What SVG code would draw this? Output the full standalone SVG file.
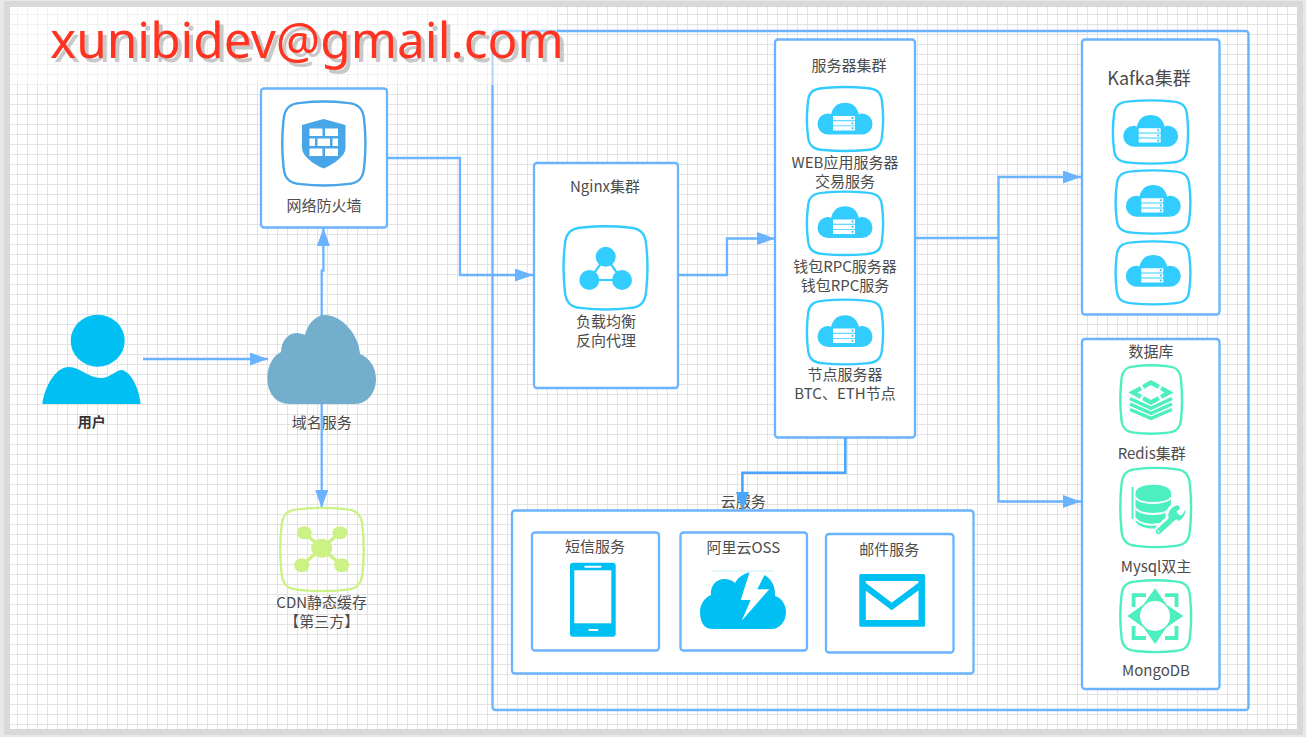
<svg xmlns="http://www.w3.org/2000/svg" xmlns:xlink="http://www.w3.org/1999/xlink" width="1306" height="737" viewBox="0 0 1306 737">
<style>
.box{fill:#fff;stroke:#69b3ff;stroke-width:2.3}
.conn{fill:none;stroke:#69b3ff;stroke-width:2.3}
.t{font-family:"Noto Sans CJK SC","Noto Sans",sans-serif;font-size:15px;fill:#4c4c4c;text-anchor:middle;dominant-baseline:central}
.sq{fill:#fff;stroke-width:2.4}
.cy{stroke:#33ccff}.gr{stroke:#4deebf}.sb{stroke:#48a6e8}.li{stroke:#ccf285}
.icb{fill:#00bff3}.icc{fill:#33ccff}.icg{fill:#4deebf}
.mail{font-family:"Noto Sans","Open Sans",sans-serif;font-size:49.500px;fill:#ff3322;text-shadow:4px 4px 0 #c8c8c8}
</style>
<defs>
<pattern id="grid" width="10" height="10" patternUnits="userSpaceOnUse">
<path d="M7.5 0V10M0 4.5H10" stroke="#e3e3e3" stroke-width="1" fill="none"/>
</pattern>
<path id="squircle" vector-effect="non-scaling-stroke" d="M22 1C40 -1 60 -1 78 1C92 2 98 8 99 22C101 40 101 60 99 78C98 92 92 98 78 99C60 101 40 101 22 99C8 98 2 92 1 78C-1 60 -1 40 1 22C2 8 8 2 22 1Z"/>
<g id="srv">
<path class="icc" d="M-17 16A10.500 10.500 0 0 1 -17 -5C-16 -5 -15 -5 -14 -4C-12 -12 -7 -15.700 0 -15.700C7 -15.700 12 -12 14 -4C15 -5 16 -5 17 -5A10.500 10.500 0 0 1 17 16Z"/>
<path fill="#fff" d="M-12 -2.500H10V1.700H-12ZM-12 2.700H10V6.900H-12ZM-12 7.700H10V11.900H-12Z"/>
<path fill="#33ccff" d="M6.500 -1.500h2v2h-2zM6.500 3.700h2v2h-2zM6.500 8.800h2v2h-2z"/>
</g>
<marker id="arr" markerUnits="userSpaceOnUse" markerWidth="18" markerHeight="13" refX="18" refY="6.500" orient="auto">
<path d="M0 0L18 6.500L0 13Z" fill="#69b3ff"/>
</marker>
</defs>

<rect width="1306" height="737" fill="#e8e8e8"/>
<rect x="4" y="1" width="1299" height="734" fill="#d9d9d9"/>
<rect x="10" y="7" width="1287" height="722" fill="#fff"/>
<rect x="10" y="7" width="1287" height="722" fill="url(#grid)"/>

<g id="frame"><rect class="box" x="492.500" y="31" width="756" height="679" rx="3" style="fill:none"/></g>

<g id="connectors">
<path class="conn" d="M143 359H268" marker-end="url(#arr)"/>
<path class="conn" d="M321.700 316V270.700H323.400V228" marker-end="url(#arr)"/>
<path class="conn" d="M387 158H460V275H533" marker-end="url(#arr)"/>
<path class="conn" d="M678 275H727V238.500H775" marker-end="url(#arr)"/>
<path class="conn" d="M915 238H998.500V177H1081" marker-end="url(#arr)"/>
<path class="conn" d="M998.500 238V501.500H1081" marker-end="url(#arr)"/>
</g>

<g id="user">
<ellipse class="icb" cx="97.700" cy="340.700" rx="27" ry="26"/>
<path class="icb" d="M42.300 404C45 385 56 367 69 367C80 367 88 378 101 378C110 378 116 370 122 370C131 372 139 388 140.700 404Z"/>
<text class="t" x="91.700" y="421.300" style="font-size:14px;font-weight:700;fill:#333">用户</text>
</g>

<g id="dns">
<path fill="#74aecd" d="M290 404C275 404 267.300 392 267.300 378C267.300 365 274 355 281 352C281 340 289 333 297 333C300 333 303 334 305 335C308 322 317 315 325 315C342 315 359 335 360 354C370 358 376 368 376 379C376 393 367 404 355 404Z"/>
<text class="t" x="321.700" y="421.500">域名服务</text>
</g>
<path class="conn" d="M321.700 404V508" marker-end="url(#arr)"/>

<g id="firewall">
<rect class="box" x="261" y="88.500" width="126" height="139" rx="3"/>
<use xlink:href="#squircle" href="#squircle" class="sq sb" transform="translate(282.700 102) scale(.823 .83)"/>
<path fill="#48a6e8" d="M323.500 119L345.500 125V148C345.500 156 334 164 323.500 168.500C313 164 302 156 302 148V125Z"/>
<path fill="#fff" d="M309.500 128.500h13v7.500h-13zM325 128.500h13v7.500h-13zM309.500 138.500h5.500v7.500h-5.500zM317.500 138.500h12.500v7.500h-12.500zM332.500 138.500h5.500v7.500h-5.500zM309.500 148.500h13v7.500h-13zM325 148.500h13v7.500h-13z"/>
<text class="t" x="324" y="204">网络防火墙</text>
</g>

<g id="cdn">
<use xlink:href="#squircle" href="#squircle" class="sq li" transform="translate(280.700 508.300) scale(.826 .824)" style="fill:none"/>
<path d="M304.300 532.700L321.700 548.300L340 532.700M301.700 565.300L321.700 548.300L341.700 565.300" fill="none" stroke="#ccf285" stroke-width="3.500"/>
<g fill="#ccf285">
<ellipse cx="321.700" cy="548.300" rx="10.500" ry="9.500"/>
<ellipse cx="304.300" cy="532.700" rx="7.500" ry="6.500"/>
<ellipse cx="340" cy="532.700" rx="7.500" ry="6.500"/>
<ellipse cx="301.700" cy="565.300" rx="7.500" ry="7"/>
<ellipse cx="341.700" cy="565.300" rx="7.500" ry="7"/>
</g>
<text class="t" x="321.700" y="600.700"><tspan x="321.700">CDN静态缓存</tspan><tspan x="321.700" dy="19">【第三方】</tspan></text>
</g>

<g id="nginx">
<rect class="box" x="534" y="163" width="144" height="225" rx="3"/>
<text class="t" x="605" y="185">Nginx集群</text>
<use xlink:href="#squircle" href="#squircle" class="sq cy" transform="translate(564 226.700) scale(.83 .823)"/>
<path d="M605.700 256.700L589.300 280H622Z" fill="none" stroke="#33ccff" stroke-width="2.200"/>
<g class="icc"><circle cx="605.700" cy="256.700" r="10"/><circle cx="589.300" cy="280" r="10"/><circle cx="622" cy="280" r="10"/></g>
<text class="t" x="606" y="319.700"><tspan x="606">负载均衡</tspan><tspan x="606" dy="19">反向代理</tspan></text>
</g>

<g id="servers">
<rect class="box" x="775" y="39.500" width="140" height="398" rx="3"/>
<text class="t" x="849" y="64">服务器集群</text>
<use xlink:href="#squircle" href="#squircle" class="sq cy" transform="translate(807.300 87.300) scale(.754 .634)"/>
<use xlink:href="#srv" href="#srv" x="845" y="118.500"/>
<text class="t" x="845" y="160.500"><tspan x="845">WEB应用服务器</tspan><tspan x="845" dy="19">交易服务</tspan></text>
<use xlink:href="#squircle" href="#squircle" class="sq cy" transform="translate(807.300 192) scale(.754 .627)"/>
<use xlink:href="#srv" href="#srv" x="845" y="222"/>
<text class="t" x="845" y="264.500"><tspan x="845">钱包RPC服务器</tspan><tspan x="845" dy="19">钱包RPC服务</tspan></text>
<use xlink:href="#squircle" href="#squircle" class="sq cy" transform="translate(807.300 300) scale(.754 .64)"/>
<use xlink:href="#srv" href="#srv" x="845" y="331"/>
<text class="t" x="845" y="373"><tspan x="845">节点服务器</tspan><tspan x="845" dy="19">BTC、ETH节点</tspan></text>
</g>

<g id="kafka">
<rect class="box" x="1082" y="39.500" width="137.500" height="275" rx="3"/>
<text class="t" x="1149" y="76.500" style="font-size:18px">Kafka集群</text>
<use xlink:href="#squircle" href="#squircle" class="sq cy" transform="translate(1113.300 100.700) scale(.744 .626)"/>
<use xlink:href="#srv" href="#srv" x="1150.700" y="130.700"/>
<use xlink:href="#squircle" href="#squircle" class="sq cy" transform="translate(1116 170.700) scale(.74 .626)"/>
<use xlink:href="#srv" href="#srv" x="1153.300" y="200.700"/>
<use xlink:href="#squircle" href="#squircle" class="sq cy" transform="translate(1116 241.700) scale(.74 .623)"/>
<use xlink:href="#srv" href="#srv" x="1153.300" y="270.700"/>
</g>

<g id="database">
<rect class="box" x="1082" y="339" width="137.500" height="350" rx="3"/>
<text class="t" x="1151" y="350">数据库</text>
<use xlink:href="#squircle" href="#squircle" class="sq gr" transform="translate(1120.700 365.700) scale(.61 .676)"/>
<path d="M1151 382.500L1169 392.500L1151 402.500L1133 392.500Z" fill="none" stroke="#4deebf" stroke-width="4.500" stroke-dasharray="9 2.600 9 0"/>
<path d="M1130 398.500L1151 408.300L1172 398.500M1130 404L1151 413.300L1172 404M1130 409.500L1151 418.300L1172 409.500" fill="none" stroke="#4deebf" stroke-width="3.500"/>
<text class="t" x="1151.700" y="452">Redis集群</text>
<use xlink:href="#squircle" href="#squircle" class="sq gr" transform="translate(1120.700 468.300) scale(.7 .784)"/>
<path class="icg" d="M1135.500 493C1135.500 488 1143 484.700 1153.300 484.700C1163.500 484.700 1171 488 1171 493V512C1171 520 1166 526 1160 528C1150 530 1135.500 527 1135.500 520Z"/>
<path d="M1135 497C1140 505 1166 505 1172 497M1135 507.500C1140 516 1166 516 1172 507.500M1135 518C1140 525 1155 527 1166 522" fill="none" stroke="#fff" stroke-width="2"/>
<path d="M1132.500 487V519" fill="none" stroke="#4deebf" stroke-width="1.800"/>
<path d="M1176 508C1171 511 1170 516 1172 519L1158.500 532" fill="none" stroke="#fff" stroke-width="11"/>
<path d="M1177 508C1171 510 1170 516 1172 519L1158.500 531.500" fill="none" stroke="#4deebf" stroke-width="5.500" stroke-linecap="round"/>
<path d="M1176 507.500L1177 513L1182 517L1178 519C1173 522 1169 516 1171 511C1172 508 1174 507 1176 507.500ZM1185 510C1186 515 1182 520 1178 521L1176 517L1182 515Z" class="icg"/>
<circle cx="1158.500" cy="531.500" r="1" fill="#fff"/>
<text class="t" x="1156" y="565">Mysql双主</text>
<use xlink:href="#squircle" href="#squircle" class="sq gr" transform="translate(1120.700 580.700) scale(.7 .71)"/>
<path fill="none" stroke="#4deebf" stroke-width="3.800" d="M1133.600 607V595.200H1146M1165 595.200H1176.500V607M1176.500 626V638H1165M1146 638H1133.600V626"/>
<path class="icg" fill-rule="evenodd" d="M1155 588.300L1166.500 604.500L1183.300 616L1166.500 627.500L1155 644L1143.500 627.500L1127.300 616L1143.500 604.500ZM1155 601A15 15 0 1 0 1155 631A15 15 0 1 0 1155 601Z"/>
<text class="t" x="1156" y="669.500">MongoDB</text>
</g>

<g id="cloudsvc">
<text class="t" x="743.300" y="500.700">云服务</text>
<rect class="box" x="512" y="510.500" width="461.500" height="163" rx="3"/>
</g>
<path d="M845.300 438V472.700H742.400V510" fill="none" stroke="#4aa5ff" stroke-width="2.600"/>
<path d="M736 492H749L742.500 510Z" fill="#4aa5ff"/>

<g id="sms">
<rect class="box" x="532" y="532.500" width="127" height="118" rx="3"/>
<text class="t" x="595" y="545.700">短信服务</text>
<rect class="icb" x="570" y="562.700" width="45.700" height="74" rx="3"/>
<rect x="574.300" y="570.300" width="37" height="53" fill="#fff"/>
<rect x="584.300" y="565.700" width="17.300" height="2" rx="1" fill="#fff"/>
<rect x="588.300" y="629" width="10" height="2" rx="1" fill="#fff"/>
</g>

<g id="oss">
<rect class="box" x="680.500" y="532.500" width="126.500" height="118" rx="3"/>
<text class="t" x="743.300" y="546">阿里云OSS</text>
<path class="icb" d="M712 629C703 629 700 620 700 612C700 604 705 597 711 595C710 585 717 579 724 579C728 579 732 580 735 583C739 576 746 572 753 572C766 572 776 582 775 596C782 598 786 605 786 612C786 622 779 629 772 629Z"/>
<path fill="#fff" d="M750 571L740.700 600H750.700L741.700 620.700L769.300 589.300H757.300L765 574L763 571Z"/>
<path d="M712 571H773" stroke="#c5eefb" stroke-width="1" fill="none"/>
</g>

<g id="email">
<rect class="box" x="826" y="534" width="127.500" height="118.500" rx="3"/>
<text class="t" x="889.300" y="548.300">邮件服务</text>
<rect class="icb" x="859.300" y="574" width="65.700" height="52.700" rx="1.500"/>
<rect x="865.800" y="581" width="52.700" height="39" fill="#fff"/>
<path d="M862 584L891.700 606.500L922 584" fill="none" stroke="#00bff3" stroke-width="6"/>
</g>

<rect x="10" y="7" width="547" height="78" fill="#fff" fill-opacity=".5"/>
<g id="watermark">
<text class="mail" x="50" y="57.500">xunibidev@gmail.com</text>
</g>
</svg>
